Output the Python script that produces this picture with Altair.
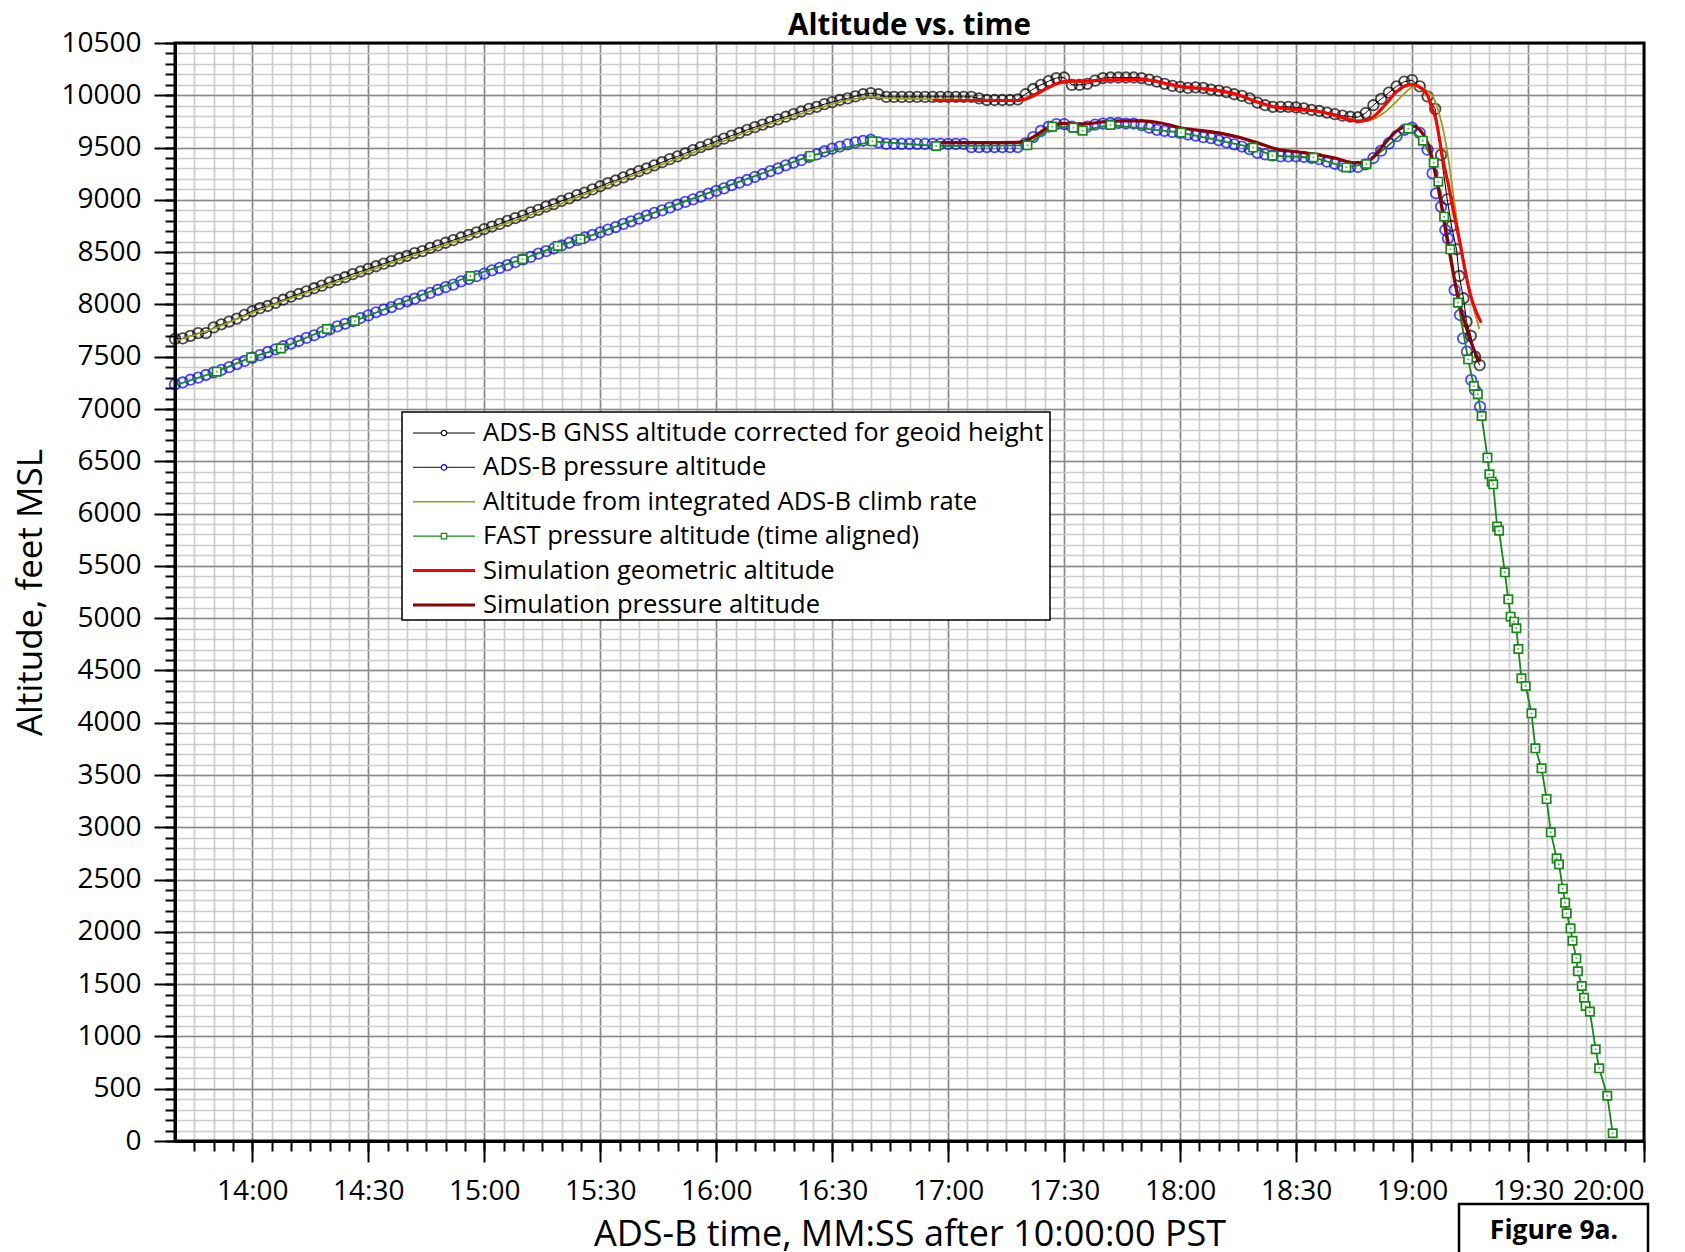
import altair as alt
import pandas as pd

FONT = "Open Sans"
W, H = 1469, 1098
X_MIN, X_MAX = 820, 1200          # seconds after 10:00 (13:40 .. 20:00)
Y_MIN, Y_MAX = 0, 10500

TITLE = "Altitude vs. time"
FIG_LABEL = "Figure 9a."

# ---- axis ticks ----
X_MAJOR = [840, 870, 900, 930, 960, 990, 1020, 1050, 1080, 1110, 1140, 1170, 1200]
X_MINOR = list(range(825, 1201, 5))
Y_MAJOR = list(range(0, 10501, 500))
Y_MINOR = list(range(0, 10501, 100))

# ---- ADS-B GNSS altitude (2 s samples from 13:40) ----
GNSS_START, GNSS_STEP = 820, 2
GNSS_ALT = [
    7670, 7675, 7700, 7725, 7725, 7780, 7810, 7835, 7865, 7900,
    7935, 7965, 7985, 8015, 8045, 8075, 8100, 8125, 8155, 8180,
    8210, 8235, 8260, 8290, 8315, 8340, 8365, 8390, 8415, 8440,
    8465, 8490, 8510, 8540, 8565, 8590, 8615, 8640, 8665, 8690,
    8720, 8745, 8770, 8800, 8825, 8850, 8880, 8905, 8935, 8960,
    8990, 9015, 9045, 9070, 9100, 9130, 9160, 9185, 9215, 9245,
    9275, 9300, 9330, 9360, 9390, 9415, 9445, 9475, 9505, 9530,
    9560, 9585, 9615, 9640, 9670, 9695, 9720, 9745, 9770, 9795,
    9820, 9845, 9870, 9890, 9915, 9935, 9955, 9970, 9990, 10010,
    10020, 10010, 9985, 9985, 9985, 9985, 9985, 9985, 9985, 9985,
    9985, 9985, 9985, 9985, 9970, 9955, 9955, 9955, 9955, 9960,
    10010, 10060, 10100, 10135, 10165, 10170, 10100, 10100, 10110, 10140,
    10165, 10170, 10170, 10170, 10170, 10165, 10150, 10130, 10110, 10090,
    10080, 10070, 10075, 10070, 10055, 10045, 10030, 10010, 9995, 9970,
    9930, 9905, 9890, 9890, 9890, 9885, 9875, 9860, 9850, 9835,
    9820, 9805, 9795, 9790, 9830, 9905, 9965, 10025, 10085, 10130,
    10145, 10085, 9990, 9870,
]
GNSS_DESC_T = [1147.5, 1149.1, 1150.2, 1151.5, 1152.2, 1153.3, 1154.1, 1155.2, 1156.3, 1157.5]
GNSS_DESC_ALT = [9430, 9005, 8750, 8527, 8272, 8059, 7835, 7700, 7500, 7420]

# ---- ADS-B pressure altitude (2 s samples from 13:40) ----
PRESS_START, PRESS_STEP = 820, 2
PRESS_ALT = [
    7235, 7255, 7280, 7300, 7325, 7350, 7375, 7400, 7430, 7460,
    7490, 7515, 7545, 7570, 7600, 7625, 7650, 7680, 7705, 7735,
    7760, 7790, 7815, 7840, 7870, 7895, 7925, 7950, 7975, 8005,
    8030, 8055, 8085, 8110, 8140, 8165, 8190, 8220, 8245, 8270,
    8295, 8325, 8350, 8375, 8405, 8430, 8455, 8485, 8510, 8535,
    8565, 8590, 8615, 8640, 8665, 8690, 8715, 8740, 8770, 8795,
    8820, 8850, 8875, 8900, 8925, 8955, 8980, 9005, 9030, 9060,
    9085, 9110, 9140, 9165, 9190, 9220, 9245, 9275, 9300, 9330,
    9355, 9380, 9410, 9435, 9465, 9490, 9510, 9530, 9550, 9565,
    9575, 9550, 9535, 9535, 9535, 9535, 9535, 9535, 9535, 9535,
    9535, 9535, 9535, 9505, 9505, 9505, 9505, 9505, 9505, 9505,
    9540, 9600, 9660, 9700, 9725, 9725, 9700, 9685, 9700, 9720,
    9730, 9735, 9735, 9730, 9730, 9715, 9690, 9670, 9660, 9650,
    9640, 9625, 9615, 9600, 9590, 9570, 9550, 9530, 9510, 9485,
    9450, 9435, 9425, 9415, 9415, 9415, 9410, 9400, 9390, 9365,
    9345, 9325, 9315, 9315, 9340, 9400, 9470, 9540, 9610, 9670,
    9690, 9640, 9480,
]
PRESS_DESC_T = [1145.3, 1146.2, 1147.5, 1148.6, 1149.3, 1151.0, 1152.4, 1153.2, 1154.2, 1155.3, 1156.3, 1157.6]
PRESS_DESC_ALT = [9254, 9063, 8935, 8712, 8632, 8138, 7899, 7676, 7548, 7278, 7182, 7022]

# ---- Altitude from integrated ADS-B climb rate ----
CLIMB_T = [820, 830, 840, 850, 860, 870, 880, 890, 900, 910, 920, 930, 940, 950, 960, 970,
           980, 990, 995, 1000, 1003, 1010, 1020, 1030, 1038, 1040, 1042, 1044, 1046, 1048,
           1050, 1055, 1060, 1065, 1070, 1073, 1076, 1080, 1085, 1090, 1095, 1100, 1105,
           1110, 1115, 1120, 1124, 1127, 1129, 1131, 1134, 1137, 1139, 1140.5, 1142, 1144,
           1145.5, 1147, 1148.5, 1149.7, 1151, 1152.4, 1153.7, 1155, 1156.2, 1157.4]
CLIMB_ALT = [7650, 7770, 7920, 8060, 8190, 8320, 8445, 8570, 8700, 8830, 8965, 9110, 9255, 9395, 9535, 9675,
             9800, 9915, 9960, 9985, 9975, 9965, 9960, 9955, 9950, 9960, 9990, 10030, 10070, 10105,
             10125, 10130, 10140, 10145, 10145, 10135, 10110, 10080, 10060, 10040, 10000, 9930, 9880,
             9860, 9845, 9810, 9775, 9755, 9760, 9790, 9870, 9980, 10050, 10089, 10080, 10040,
             9980, 9828, 9590, 9317, 8960, 8616, 8340, 8106, 7930, 7765]

# ---- FAST pressure altitude (time aligned) ----
FAST_T = [817, 830.8, 839.7, 847.4, 859.3, 866.5, 896.4, 909.9, 919.0, 924.9, 984.3, 1000.4,
          1016.9, 1040.5, 1046.9, 1052.4, 1054.8, 1062.0, 1080.3, 1098.9, 1103.9, 1114.5,
          1123.0, 1128.2, 1139.0, 1142.8, 1145.6, 1146.8, 1148.3, 1149.9, 1151.9, 1154.5,
          1156.0, 1157.0, 1158.0, 1159.5, 1160.0, 1160.6, 1161.0, 1162.0, 1162.5, 1164.0,
          1164.9, 1165.5, 1166.4, 1167.0, 1167.5, 1168.3, 1169.4, 1170.9, 1171.9, 1173.5,
          1174.8, 1175.9, 1177.4, 1178.0, 1179.0, 1179.6, 1180.0, 1181.0, 1181.5, 1182.5,
          1182.9, 1183.9, 1184.5, 1184.9, 1186.0, 1187.5, 1188.4, 1190.5, 1191.9]
FAST_ALT = [7190, 7357, 7494, 7580, 7765, 7842, 8272, 8432, 8559, 8623, 9420, 9560,
            9515, 9522, 9700, 9690, 9662, 9716, 9643, 9500, 9423, 9405,
            9310, 9343, 9681, 9566, 9356, 9174, 8839, 8527, 8017, 7475,
            7220, 7141, 6933, 6535, 6376, 6305, 6280, 5875, 5837, 5438,
            5180, 5014, 4966, 4903, 4705, 4425, 4351, 4090, 3755, 3564,
            3270, 2952, 2703, 2646, 2413, 2279, 2177, 2034, 1915, 1747,
            1623, 1482, 1370, 1291, 1237, 877, 695, 433, 74]

# ---- Simulation geometric altitude ----
SIMGEO_T = [1016, 1020, 1030, 1038, 1040, 1042, 1044, 1046, 1048, 1050, 1052, 1055, 1060, 1065,
            1070, 1073, 1076, 1080, 1085, 1090, 1095, 1100, 1105, 1110, 1115, 1120, 1123, 1126,
            1128, 1130, 1133, 1136, 1139, 1140.5, 1142, 1144, 1145, 1146.2, 1147, 1148, 1149.5,
            1151, 1152.4, 1153.7, 1155, 1156.4, 1157.9]
SIMGEO_ALT = [9950, 9950, 9950, 9950, 9965, 9995, 10035, 10075, 10110, 10130, 10135, 10135, 10145, 10150,
              10150, 10140, 10115, 10085, 10065, 10045, 10005, 9935, 9885, 9865, 9850, 9810, 9775, 9752,
              9760, 9795, 9907, 10035, 10099, 10102, 10077, 10003, 9891, 9764, 9604, 9381, 9126,
              8839, 8585, 8330, 8106, 7947, 7826]

# ---- Simulation pressure altitude ----
SIMPR_T = [1016, 1020, 1030, 1038, 1040, 1042, 1044, 1046, 1048, 1050, 1053, 1056, 1060, 1065,
           1070, 1075, 1080, 1085, 1090, 1095, 1100, 1105, 1110, 1115, 1120, 1125, 1128, 1130,
           1133, 1136, 1139, 1140.4, 1142.6, 1144.4, 1146, 1147.5, 1148.8, 1150.2, 1151.5,
           1152.8, 1154.1, 1155.4, 1156.6, 1157.7]
SIMPR_ALT = [9548, 9548, 9548, 9550, 9565, 9600, 9650, 9695, 9722, 9732, 9725, 9728, 9745, 9755,
             9755, 9735, 9690, 9665, 9640, 9600, 9545, 9485, 9460, 9435, 9400, 9355, 9358, 9410,
             9541, 9659, 9706, 9705, 9640, 9510, 9254, 8967, 8680, 8393, 8138,
             7931, 7772, 7628, 7517, 7453]

LEGEND_LABELS = [
    "ADS-B GNSS altitude corrected for geoid height",
    "ADS-B pressure altitude",
    "Altitude from integrated ADS-B climb rate",
    "FAST pressure altitude (time aligned)",
    "Simulation geometric altitude",
    "Simulation pressure altitude",
]

C_BLACK, C_BLUE, C_OLIVE, C_GREEN, C_RED, C_DRED = "#000000", "#0000ff", "#9c9c1c", "#168a16", "#ff0000", "#8b0000"

# ---- data frames ----
gnss_df = pd.DataFrame({
    "t": [GNSS_START + GNSS_STEP * i for i in range(len(GNSS_ALT))] + GNSS_DESC_T,
    "alt": GNSS_ALT + GNSS_DESC_ALT})
press_df = pd.DataFrame({
    "t": [PRESS_START + PRESS_STEP * i for i in range(len(PRESS_ALT))] + PRESS_DESC_T,
    "alt": PRESS_ALT + PRESS_DESC_ALT})
climb_df = pd.DataFrame({"t": CLIMB_T, "alt": CLIMB_ALT})
fast_df = pd.DataFrame({"t": FAST_T, "alt": FAST_ALT})
simgeo_df = pd.DataFrame({"t": SIMGEO_T, "alt": SIMGEO_ALT})
simpr_df = pd.DataFrame({"t": SIMPR_T, "alt": SIMPR_ALT})
dummy = pd.DataFrame({"t": [1000], "alt": [5000]})

xs = alt.Scale(domain=[X_MIN, X_MAX], nice=False, zero=False)
ys = alt.Scale(domain=[Y_MIN, Y_MAX], nice=False, zero=False)

def X(axis=None):
    return alt.X("t:Q", scale=xs, axis=axis)

def Y(axis=None):
    return alt.Y("alt:Q", scale=ys, axis=axis)

minor_axes = alt.Chart(dummy).mark_point(opacity=0).encode(
    x=X(alt.Axis(orient="bottom", values=X_MINOR, grid=True, gridColor="#cccccc", gridWidth=1.7, tickSize=10,
                 tickWidth=2, tickColor="black", labels=False, domain=False, title=None)),
    y=Y(alt.Axis(orient="left", values=Y_MINOR, grid=True, gridColor="#cccccc", gridWidth=1.7, tickSize=10,
                 tickWidth=2, tickColor="black", labels=False, domain=False, title=None)),
)

major_axes = alt.Chart(dummy).mark_point(opacity=0).encode(
    x=X(alt.Axis(orient="bottom", values=X_MAJOR, grid=True, gridColor="#888888", gridWidth=1.5, tickSize=21,
                 tickWidth=2, tickColor="black", domain=True, domainColor="black", domainWidth=3,
                 labelExpr="floor(datum.value/60) + ':' + (datum.value % 60 < 10 ? '0' : '') + (datum.value % 60)",
                 labelFont=FONT, labelFontSize=28, labelColor="black", labelPadding=15,
                 title="ADS-B time, MM:SS after 10:00:00 PST", titleFont=FONT, titleFontSize=36,
                 titleFontWeight="normal", titleColor="black", titleY=104, titleBaseline="alphabetic")),
    y=Y(alt.Axis(orient="left", values=Y_MAJOR, grid=True, gridColor="#888888", gridWidth=1.5, tickSize=21,
                 tickWidth=2, tickColor="black", domain=True, domainColor="black", domainWidth=3,
                 format="d", labelFont=FONT, labelFontSize=28, labelColor="black", labelPadding=13,
                 title="Altitude, feet MSL", titleFont=FONT, titleFontSize=35, titleFontWeight="normal",
                 titleColor="black", titleX=-134, titleY=H / 2, titleAngle=270, titleBaseline="alphabetic")),
)

enc = dict(x=X(), y=Y())

gnss_line = alt.Chart(gnss_df).mark_line(color=C_BLACK, strokeWidth=1).encode(**enc)
gnss_pts = alt.Chart(gnss_df).mark_point(shape="circle", filled=False, color=C_BLACK, size=110, strokeWidth=1.8).encode(**enc)
press_pts = alt.Chart(press_df).mark_point(shape="circle", filled=False, color=C_BLUE, size=110, strokeWidth=1.8).encode(**enc)
climb_line = alt.Chart(climb_df).mark_line(color=C_OLIVE, strokeWidth=1.8, interpolate="monotone").encode(**enc)
fast_line = alt.Chart(fast_df).mark_line(color=C_GREEN, strokeWidth=1.8, clip=True).encode(**enc)
fast_pts = alt.Chart(fast_df).mark_point(shape="square", filled=True, fill="white", stroke=C_GREEN,
                                         size=70, strokeWidth=1.7, opacity=1, clip=True).encode(**enc)
fast_dots = alt.Chart(fast_df).mark_point(shape="square", filled=True, color=C_GREEN, size=3, clip=True).encode(**enc)
simgeo_line = alt.Chart(simgeo_df).mark_line(color=C_RED, strokeWidth=3.2, interpolate="monotone").encode(**enc)
simpr_line = alt.Chart(simpr_df).mark_line(color=C_DRED, strokeWidth=3.2, interpolate="monotone").encode(**enc)

frame = alt.Chart(dummy).mark_rect(fillOpacity=0, stroke="black", strokeWidth=3).encode(
    x=alt.value(0), x2=alt.value(W), y=alt.value(0), y2=alt.value(H))

base = alt.layer(
    minor_axes, major_axes, gnss_line, gnss_pts, press_pts, climb_line, fast_line,
    simgeo_line, simpr_line, fast_pts, fast_dots, frame,
).resolve_axis(x="independent", y="independent")

# ---- legend ----
leg_df = pd.DataFrame({
    "label": LEGEND_LABELS,
    "lc": [C_BLACK, "#404040", C_OLIVE, C_GREEN, C_RED, C_DRED],
    "lw": [1, 1.2, 1.5, 1.2, 3, 3],
})
mk_df = pd.DataFrame({
    "label": [LEGEND_LABELS[0], LEGEND_LABELS[1], LEGEND_LABELS[3]],
    "shape": ["circle", "circle", "square"],
    "sc": [C_BLACK, C_BLUE, C_GREEN],
})
ly = alt.Y("label:N", scale=alt.Scale(type="point", domain=LEGEND_LABELS, range=[390, 562], padding=0), axis=None)

leg_box = alt.Chart(dummy).mark_rect(fill="white", stroke="black", strokeWidth=1.5).encode(
    x=alt.value(227), x2=alt.value(875), y=alt.value(369), y2=alt.value(577))
leg_lines = alt.Chart(leg_df).mark_rule().encode(
    x=alt.value(238), x2=alt.value(300), y=ly,
    color=alt.Color("lc:N", scale=None), strokeWidth=alt.StrokeWidth("lw:Q", scale=None))
leg_marks = alt.Chart(mk_df).mark_point(filled=True, fill="white", size=30, strokeWidth=1.2, opacity=1).encode(
    x=alt.value(269), y=ly, shape=alt.Shape("shape:N", scale=None), stroke=alt.Stroke("sc:N", scale=None))
leg_text = alt.Chart(leg_df).mark_text(align="left", baseline="middle", font=FONT, fontSize=25.6, color="black").encode(
    x=alt.value(308), y=ly, text="label:N")

legend = alt.layer(leg_box, leg_lines, leg_marks, leg_text)

# ---- title and figure label ----
title_text = alt.Chart(dummy).mark_text(align="center", baseline="alphabetic", font=FONT, fontSize=29.5,
                                        fontWeight="bold", color="black").encode(
    x=alt.value(W / 2), y=alt.value(-8), text=alt.value(TITLE))
fig_box = alt.Chart(dummy).mark_rect(fill="white", stroke="black", strokeWidth=2.5).encode(
    x=alt.value(1284), x2=alt.value(1473), y=alt.value(1161), y2=alt.value(1240))
fig_text = alt.Chart(dummy).mark_text(align="center", baseline="alphabetic", font=FONT, fontSize=26.5,
                                      fontWeight="bold", color="black").encode(
    x=alt.value(1379), y=alt.value(1196), text=alt.value(FIG_LABEL))
annot = alt.layer(title_text, fig_box, fig_text)

chart = alt.layer(base, legend, annot).resolve_scale(y="independent").properties(
    width=W, height=H,
    autosize=alt.AutoSizeParams(type="none"),
    padding={"left": 167, "top": 35, "right": 24, "bottom": 111},
).configure_view(stroke=None).configure(font=FONT)

chart.save("out.html", embed_options={"renderer": "svg", "actions": False})
